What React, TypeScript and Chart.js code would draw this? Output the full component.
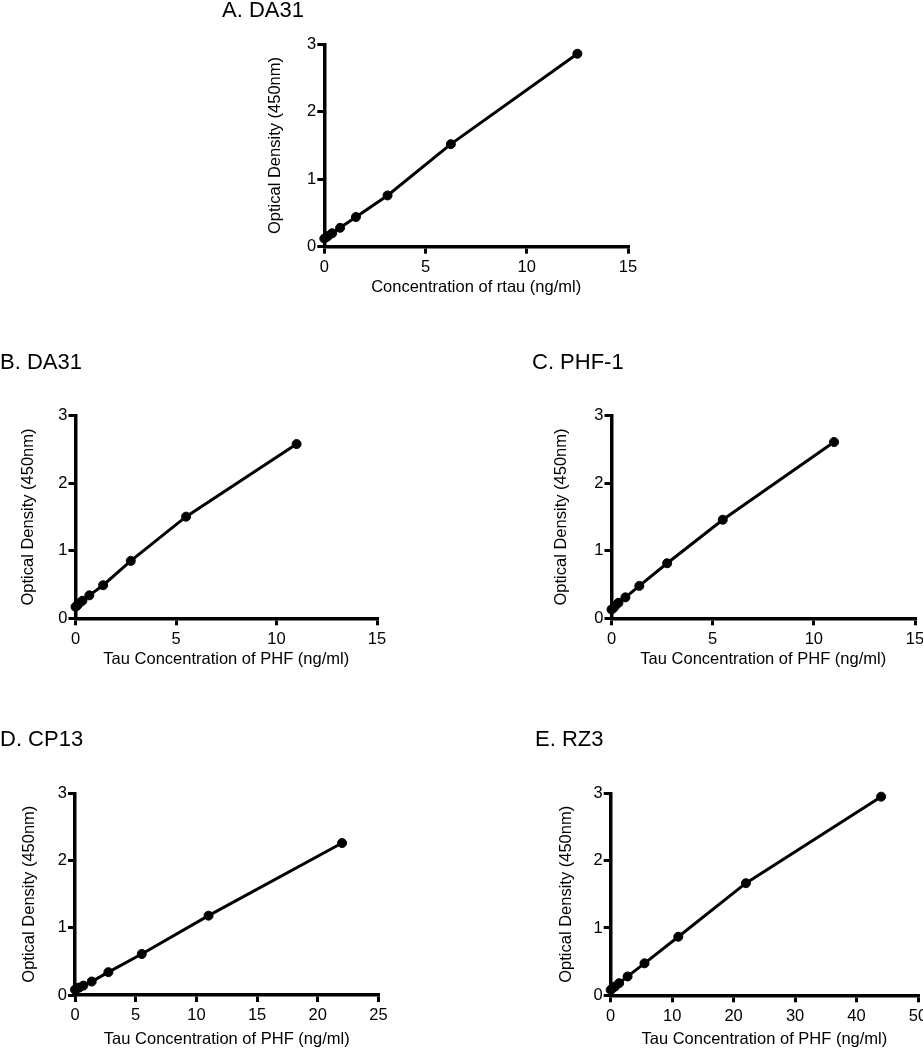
import React, { useEffect, useRef } from "react";
import { Chart, registerables } from "chart.js";

Chart.register(...registerables);

const FONT = '"Liberation Sans", Arial, Helvetica, sans-serif';

// ---- Data ----
const yAxisLabel = "Optical Density (450nm)";
const yTicksMax = 3;
const yTickStep = 1;

// Panel A
const aTitle = "A. DA31";
const aXLabel = "Concentration of rtau (ng/ml)";
const aConc = [0, 0.098, 0.195, 0.39, 0.78, 1.5625, 3.125, 6.25, 12.5];
const aOD = [0.12, 0.14, 0.16, 0.2, 0.28, 0.44, 0.76, 1.52, 2.86];
const aXMax = 15;
const aXStep = 5;

// Panel B
const bTitle = "B. DA31";
const bXLabel = "Tau Concentration of PHF (ng/ml)";
const bConc = [0, 0.086, 0.172, 0.344, 0.6875, 1.375, 2.75, 5.5, 11];
const bOD = [0.17, 0.19, 0.22, 0.26, 0.34, 0.49, 0.85, 1.505, 2.58];
const bXMax = 15;
const bXStep = 5;

// Panel C
const cTitle = "C. PHF-1";
const cXLabel = "Tau Concentration of PHF (ng/ml)";
const cConc = [0, 0.086, 0.172, 0.344, 0.6875, 1.375, 2.75, 5.5, 11];
const cOD = [0.13, 0.15, 0.18, 0.23, 0.31, 0.48, 0.815, 1.46, 2.61];
const cXMax = 15;
const cXStep = 5;

// Panel D
const dTitle = "D. CP13";
const dXLabel = "Tau Concentration of PHF (ng/ml)";
const dConc = [0, 0.172, 0.344, 0.6875, 1.375, 2.75, 5.5, 11, 22];
const dOD = [0.08, 0.1, 0.11, 0.14, 0.2, 0.34, 0.61, 1.18, 2.26];
const dXMax = 25;
const dXStep = 5;

// Panel E
const eTitle = "E. RZ3";
const eXLabel = "Tau Concentration of PHF (ng/ml)";
const eConc = [0, 0.344, 0.6875, 1.375, 2.75, 5.5, 11, 22, 44];
const eOD = [0.08, 0.11, 0.13, 0.18, 0.28, 0.475, 0.87, 1.665, 2.95];
const eXMax = 50;
const eXStep = 10;

type Layout = {
  canvasLeft: number;
  titleY: number;
  plotLeft: number;
  plotRight: number;
  plotTop: number;
  plotBottom: number;
  yTitleX: number;
  xTitleY: number;
};

type PanelProps = {
  title: string;
  xLabel: string;
  xs: number[];
  ys: number[];
  xMax: number;
  xStep: number;
  layout: Layout;
};

const TITLE_SIZE = 22;
const TITLE_LH = TITLE_SIZE * 1.2;
const AXIS_SIZE = 16.5;
const AXIS_LH = AXIS_SIZE * 1.2;

function Panel({ title, xLabel, xs, ys, xMax, xStep, layout }: PanelProps) {
  const ref = useRef<HTMLCanvasElement | null>(null);
  const canvasLeft = layout.canvasLeft;
  const canvasTop = Math.round(layout.titleY - TITLE_LH / 2 - 2);
  const titlePadTop = layout.titleY - TITLE_LH / 2 - canvasTop;
  const titlePadBottom = layout.plotTop - canvasTop - titlePadTop - TITLE_LH;
  const rightPad = 24;
  const width = Math.round(layout.plotRight + rightPad - canvasLeft);
  const height = Math.round(layout.xTitleY + 20 - canvasTop);
  const xScaleHeight = canvasTop + height - layout.plotBottom;
  const xTitlePadBottom = canvasTop + height - layout.xTitleY - AXIS_LH / 2;
  const yScaleWidth = layout.plotLeft - canvasLeft;
  const yTitlePadTop = layout.yTitleX - canvasLeft - AXIS_LH / 2;
  const realRightPad = width - (layout.plotRight - canvasLeft);

  useEffect(() => {
    if (!ref.current) return;
    const chart = new Chart(ref.current, {
      type: "scatter",
      data: {
        datasets: [
          {
            data: xs.map((x, i) => ({ x, y: ys[i] })),
            showLine: true,
            borderColor: "#000",
            backgroundColor: "#000",
            borderWidth: 3,
            pointRadius: 4.5,
            pointBorderWidth: 1,
            pointBackgroundColor: "#000",
            pointBorderColor: "#000",
            clip: false as any,
          } as any,
        ],
      },
      options: {
        responsive: false,
        animation: false,
        devicePixelRatio: 1,
        events: [],
        layout: { padding: { left: 0, top: 0, right: realRightPad, bottom: 0 } },
        plugins: {
          legend: { display: false },
          tooltip: { enabled: false },
          title: {
            display: true,
            text: title,
            align: "start",
            color: "#000",
            font: { family: FONT, size: TITLE_SIZE, weight: "normal", lineHeight: 1.2 },
            padding: { top: titlePadTop, bottom: titlePadBottom },
          },
        },
        scales: {
          x: {
            type: "linear",
            position: "bottom",
            min: 0,
            max: xMax,
            ticks: {
              stepSize: xStep,
              color: "#000",
              font: { family: FONT, size: AXIS_SIZE },
              padding: 4,
              maxRotation: 0,
              autoSkip: false,
            },
            grid: {
              drawOnChartArea: false,
              drawTicks: true,
              tickLength: 7,
              lineWidth: 3,
              color: "#000",
            },
            border: { display: true, width: 3.5, color: "#000" },
            title: {
              display: true,
              text: xLabel,
              color: "#000",
              font: { family: FONT, size: AXIS_SIZE, lineHeight: 1.2 },
              padding: { top: 0, bottom: xTitlePadBottom },
            },
            afterFit: (s: any) => {
              s.height = xScaleHeight;
              s.paddingLeft = 0;
              s.paddingRight = 0;
            },
          },
          y: {
            type: "linear",
            position: "left",
            min: 0,
            max: yTicksMax,
            ticks: {
              stepSize: yTickStep,
              color: "#000",
              font: { family: FONT, size: AXIS_SIZE },
              padding: 1,
            },
            grid: {
              drawOnChartArea: false,
              drawTicks: true,
              tickLength: 7,
              lineWidth: 3,
              color: "#000",
            },
            border: { display: true, width: 3.5, color: "#000" },
            title: {
              display: true,
              text: yAxisLabel,
              color: "#000",
              font: { family: FONT, size: AXIS_SIZE, lineHeight: 1.2 },
              padding: { top: yTitlePadTop, bottom: 0 },
            },
            afterFit: (s: any) => {
              s.width = yScaleWidth;
            },
          },
        },
      } as any,
    });
    return () => chart.destroy();
  }, []);

  return (
    <canvas
      ref={ref}
      width={width}
      height={height}
      style={{ position: "absolute", left: canvasLeft, top: canvasTop, width, height }}
    />
  );
}

export default function App() {
  return (
    <div
      style={{
        position: "absolute",
        left: 0,
        top: 0,
        width: 923,
        height: 1050,
        overflow: "hidden",
        background: "#fff",
      }}
    >
      <Panel
        title={aTitle}
        xLabel={aXLabel}
        xs={aConc}
        ys={aOD}
        xMax={aXMax}
        xStep={aXStep}
        layout={{ canvasLeft: 222, titleY: 10.8, plotLeft: 324.3, plotRight: 628, plotTop: 44.3, plotBottom: 246.7, yTitleX: 275.5, xTitleY: 287 }}
      />
      <Panel
        title={bTitle}
        xLabel={bXLabel}
        xs={bConc}
        ys={bOD}
        xMax={bXMax}
        xStep={bXStep}
        layout={{ canvasLeft: 0, titleY: 362.9, plotLeft: 75.5, plotRight: 377, plotTop: 415.7, plotBottom: 618.3, yTitleX: 28, xTitleY: 659 }}
      />
      <Panel
        title={cTitle}
        xLabel={cXLabel}
        xs={cConc}
        ys={cOD}
        xMax={cXMax}
        xStep={cXStep}
        layout={{ canvasLeft: 532, titleY: 362.9, plotLeft: 611.5, plotRight: 915, plotTop: 415.7, plotBottom: 618.3, yTitleX: 561.5, xTitleY: 659.5 }}
      />
      <Panel
        title={dTitle}
        xLabel={dXLabel}
        xs={dConc}
        ys={dOD}
        xMax={dXMax}
        xStep={dXStep}
        layout={{ canvasLeft: 0, titleY: 740.3, plotLeft: 75, plotRight: 378.5, plotTop: 793.3, plotBottom: 995, yTitleX: 29.5, xTitleY: 1039 }}
      />
      <Panel
        title={eTitle}
        xLabel={eXLabel}
        xs={eConc}
        ys={eOD}
        xMax={eXMax}
        xStep={eXStep}
        layout={{ canvasLeft: 535, titleY: 740, plotLeft: 610.7, plotRight: 918, plotTop: 793.3, plotBottom: 995.3, yTitleX: 566.3, xTitleY: 1039 }}
      />
    </div>
  );
}
